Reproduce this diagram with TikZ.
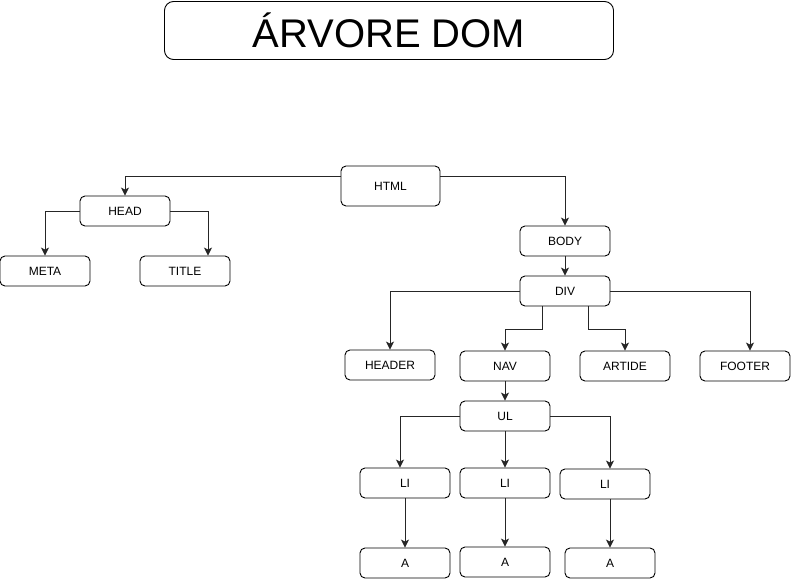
\documentclass[tikz,border=0pt]{standalone}
\usepackage{fontspec}
\setmainfont{Liberation Sans}
\usetikzlibrary{positioning}
\usetikzlibrary{arrows.meta}

\begin{document}
\begin{tikzpicture}[x=1pt,y=-1pt,>={Stealth[length=8pt,width=8pt,inset=2pt]},
                    line width=0.9pt]
  \tikzstyle{every node}=[font=\fontsize{12}{14}\selectfont]
  \tikzstyle{tag}=[draw,rounded corners=5pt,minimum width=90pt,minimum height=30pt,inner sep=0pt]
  \tikzstyle{link}=[->,draw=black!85]

  \useasboundingbox (0,0) rectangle (791,580);

  \node[draw,rounded corners=9pt,minimum width=449pt,minimum height=58pt,inner sep=0pt,
        font=\fontsize{40}{44}\selectfont] (titulo) at (389,30.5) {ÁRVORE DOM};

  \node[tag,minimum width=99pt,minimum height=40pt] (html) at (390.5,186) {HTML};
  \node[tag] (head)   at (125,211) {HEAD};
  \node[tag] (meta)   at (45,271)  {META};
  \node[tag] (title)  at (185,271) {TITLE};
  \node[tag] (body)   at (565,241) {BODY};
  \node[tag] (div)    at (565,291) {DIV};
  \node[tag] (header) at (390,365) {HEADER};
  \node[tag] (nav)    at (505,366) {NAV};
  \node[tag] (artide) at (625,366) {ARTIDE};
  \node[tag] (footer) at (745,366) {FOOTER};
  \node[tag] (ul)     at (505,416) {UL};
  \node[tag] (li1)    at (405,483) {LI};
  \node[tag] (li2)    at (505,483) {LI};
  \node[tag] (li3)    at (605,484) {LI};
  \node[tag] (a1)     at (405,563) {A};
  \node[tag] (a2)     at (505,562) {A};
  \node[tag] (a3)     at (610,563) {A};

  % html
  \draw[link] ([yshift=10pt]html.west) -| (head.north);
  \draw[link] ([yshift=10pt]html.east) -| (body.north);
  % head
  \draw[link] (head.west) -| (meta.north);
  \draw[link] (head.east) -| ([xshift=23pt]title.north);
  % body
  \draw[link] (body) -- (div);
  \draw[link] (div.west) -| (header.north);
  \draw[link] ([xshift=-23pt]div.south) -- ++(0,23) -| (nav.north);
  \draw[link] ([xshift=23pt]div.south) -- ++(0,23) -| (artide.north);
  \draw[link] (div.east) -| ([xshift=5pt]footer.north);
  % nav
  \draw[link] (nav) -- (ul);
  \draw[link] (ul.west) -| ([xshift=-5pt]li1.north);
  \draw[link] (ul) -- (li2);
  \draw[link] (ul.east) -| ([xshift=5pt]li3.north);
  \draw[link] (li1) -- (a1);
  \draw[link] (li2) -- (a2);
  \draw[link] ([xshift=5pt]li3.south) -- (a3.north);

\end{tikzpicture}
\end{document}
